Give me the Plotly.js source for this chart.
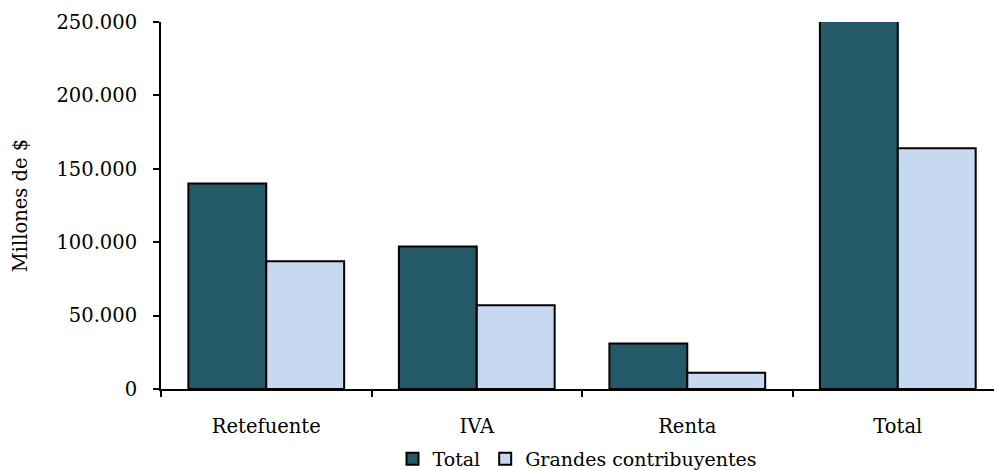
<!DOCTYPE html>
<html>
<head>
<meta charset="utf-8">
<script src="https://cdn.plot.ly/plotly-3.0.1.min.js"></script>
<style>
html,body{margin:0;padding:0;overflow:hidden;background:#fff;}
#chart{width:994px;height:470px;}
</style>
</head>
<body>
<div id="chart"></div>
<script>
const categories = ["Retefuente", "IVA", "Renta", "Total"];
const totalValues = [140000, 97000, 31000, 268000];
const grandesValues = [87000, 57000, 11000, 164000];
const seriesNames = ["Total", "Grandes contribuyentes"];
const yTickValues = [0, 50000, 100000, 150000, 200000, 250000];
const yTickLabels = ["0", "50.000", "100.000", "150.000", "200.000", "250.000"];

const FONT = "DejaVu Serif, Liberation Serif, serif";

const traces = [
  {
    type: "bar", name: seriesNames[0], x: categories, y: totalValues,
    marker: {color: "#245A68", line: {color: "#000", width: 2}}
  },
  {
    type: "bar", name: seriesNames[1], x: categories, y: grandesValues,
    marker: {color: "#C6D9F1", line: {color: "#000", width: 2}}
  }
];

const layout = {
  width: 994, height: 470,
  margin: {l: 161, r: 0, t: 22, b: 81, autoexpand: false},
  paper_bgcolor: "#fff", plot_bgcolor: "#fff",
  font: {family: FONT, size: 19.5, color: "#000"},
  barmode: "group", bargap: 0.26, bargroupgap: 0,
  showlegend: true,
  legend: {
    orientation: "h", x: 0.5, xanchor: "center", xref: "paper",
    yref: "container", y: 0.0234, yanchor: "middle",
    font: {family: FONT, size: 19, color: "#000"},
    itemwidth: 30, tracegroupgap: 0
  },
  xaxis: {
    type: "category", range: [-0.5, 3.457], automargin: false,
    showline: true, linecolor: "#000", linewidth: 2,
    ticks: "outside", tickson: "boundaries", ticklen: 6, tickwidth: 2, tickcolor: "#000",
    ticklabelstandoff: 19,
    showgrid: false, zeroline: false, fixedrange: true,
    tickfont: {family: FONT, size: 19.5, color: "#000"}
  },
  yaxis: {
    range: [0, 250000], tickvals: yTickValues, ticktext: yTickLabels, automargin: false,
    showline: true, linecolor: "#000", linewidth: 2,
    ticks: "outside", ticklen: 6, tickwidth: 2, tickcolor: "#000",
    ticklabelstandoff: 12,
    showgrid: false, zeroline: false, fixedrange: true,
    tickfont: {family: FONT, size: 19.5, color: "#000"},
    title: {text: "Millones de $", font: {family: FONT, size: 19.5, color: "#000"}, standoff: 24}
  }
};

Plotly.newPlot("chart", traces, layout, {displayModeBar: false, staticPlot: true});
</script>
</body>
</html>
